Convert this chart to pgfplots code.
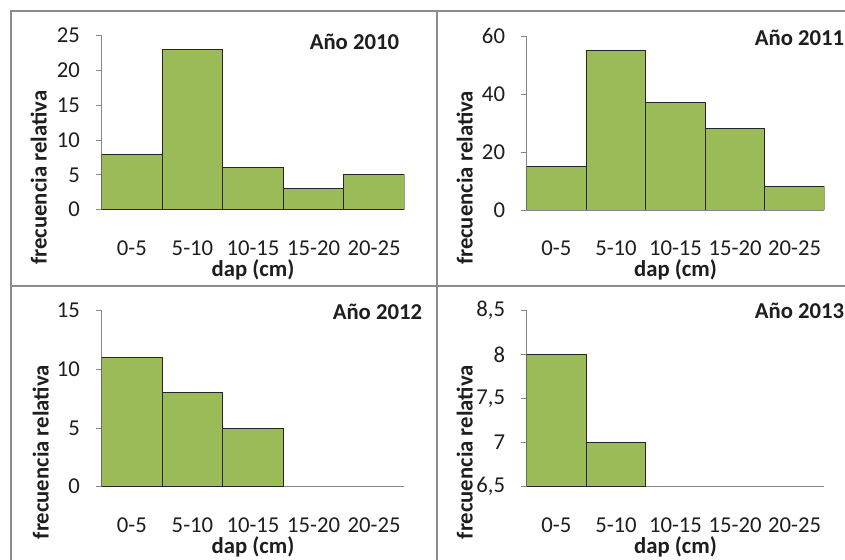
\documentclass[border=0pt]{standalone}
\usepackage{fontspec}
\setmainfont{Carlito}
\usepackage{pgfplots}
\pgfplotsset{compat=1.18}
\definecolor{barg}{HTML}{9BBB59}
\definecolor{axgray}{HTML}{868686}
\definecolor{framegray}{HTML}{8C8C8C}
\definecolor{txt}{HTML}{1E1E1E}
\newcommand{\fsz}{\fontsize{22.7}{27}\selectfont}
\pgfplotsset{
  bars/.style={fill=barg, draw=black!85, line width=0.9pt},
  hist/.style={
    scale only axis,
    xmin=-0.5, xmax=4.5,
    axis x line*=bottom, axis y line*=left,
    axis line style={axgray, line width=0.9pt, -},
    ytick style={axgray, line width=0.9pt},
    xtick style={draw=none},
    tick align=outside, major tick length=6pt,
    xtick={0,...,4}, xticklabels={0-5,5-10,10-15,15-20,20-25},
    ybar, bar width=1, bar shift=0,
    tick label style={font=\fsz, text=txt},
    xticklabel style={anchor=base, inner sep=0pt, yshift=-39.5pt},
    yticklabel style={anchor=east, inner sep=0pt, xshift=-15.5pt},
    /pgf/number format/assume math mode=true,
    xlabel={dap (cm)},
    ylabel={frecuencia relativa},
    label style={font=\bfseries\fsz, text=txt, inner sep=0pt},
    xlabel style={at={(axis description cs:0.5,0)}, anchor=base, yshift=-67pt},
  }
}
\begin{document}
\begin{tikzpicture}
\useasboundingbox (0pt,0pt) rectangle (845pt,559pt);
\fill[white] (0pt,0pt) rectangle (845pt,559pt);
% panel frames
\draw[framegray, line width=2pt] (11pt,-10pt) -- (11pt,548pt) -- (860pt,548pt);
\draw[framegray, line width=2pt] (437pt,-10pt) -- (437pt,548pt);
\draw[framegray, line width=2pt] (11pt,273pt) -- (860pt,273pt);

% ---- Año 2010
\begin{axis}[hist, at={(101.7pt,349.3pt)}, anchor=south west,
  width=302.6pt, height=174pt,
  ymin=0, ymax=25, ytick={0,5,10,15,20,25},
  ylabel style={at={([xshift=-55pt]axis description cs:0,0.184)}, anchor=base},
  after end axis/.code={\node[anchor=base west, inner sep=0pt, font=\bfseries\fsz, text=txt] at (axis description cs:0.687,0.918) {Año 2010};}]
\addplot[bars] coordinates {(0,8) (1,23) (2,6) (3,3) (4,5)};
\end{axis}

% ---- Año 2011
\begin{axis}[hist, at={(526.7pt,349pt)}, anchor=south west,
  width=297.6pt, height=174pt,
  ymin=0, ymax=60, ytick={0,20,40,60},
  ylabel style={at={([xshift=-54pt]axis description cs:0,0.184)}, anchor=base},
  after end axis/.code={\node[anchor=base west, inner sep=0pt, font=\bfseries\fsz, text=txt] at (axis description cs:0.766,0.948) {Año 2011};}]
\addplot[bars] coordinates {(0,15) (1,55) (2,37) (3,28) (4,8)};
\end{axis}

% ---- Año 2012
\begin{axis}[hist, at={(101.7pt,72.3pt)}, anchor=south west,
  width=302.6pt, height=176pt,
  ymin=0, ymax=15, ytick={0,5,10,15},
  ylabel style={at={([xshift=-53pt]axis description cs:0,0.196)}, anchor=base},
  after end axis/.code={\node[anchor=base west, inner sep=0pt, font=\bfseries\fsz, text=txt] at (axis description cs:0.763,0.949) {Año 2012};}]
\addplot[bars] coordinates {(0,11) (1,8) (2,5)};
\end{axis}

% ---- Año 2013
\begin{axis}[hist, at={(526.7pt,72.3pt)}, anchor=south west,
  width=297.6pt, height=176pt,
  ymin=6.5, ymax=8.5, ytick={6.5,7,7.5,8,8.5},
  yticklabels={{6,5},7,{7,5},8,{8,5}},
  ylabel style={at={([xshift=-54pt]axis description cs:0,0.196)}, anchor=base},
  after end axis/.code={\node[anchor=base west, inner sep=0pt, font=\bfseries\fsz, text=txt] at (axis description cs:0.766,0.953) {Año 2013};}]
\addplot[bars] coordinates {(0,8) (1,7)};
\end{axis}
\end{tikzpicture}
\end{document}
